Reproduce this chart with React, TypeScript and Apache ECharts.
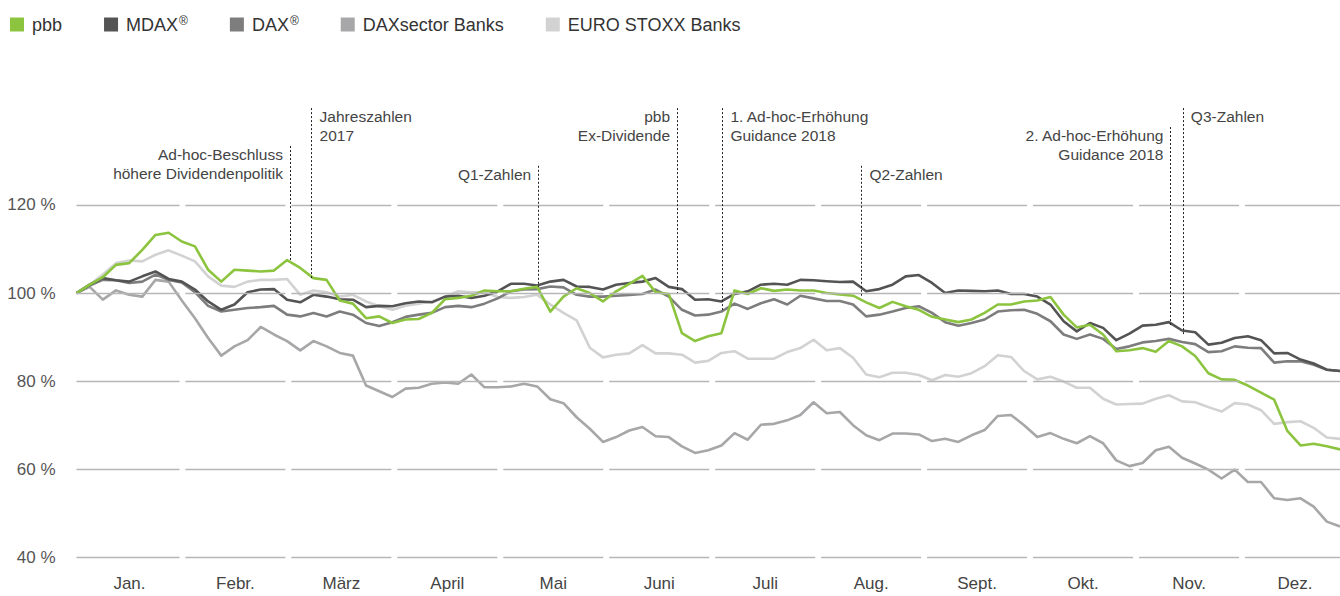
import React, { useEffect, useRef } from "react";
import * as echarts from "echarts";

const FONT = "'Liberation Sans', Arial, sans-serif";

const MONTHS = ["Jan.", "Febr.", "März", "April", "Mai", "Juni", "Juli", "Aug.", "Sept.", "Okt.", "Nov.", "Dez."];
const Y_TICKS = [40, 60, 80, 100, 120];
const X_MAX = 11.925; // visible part of the year, in months
const Y_MIN = 40;
const Y_MAX = 144;

// Values in % (start = 100), sampled about every second trading day
const PBB = [
  100, 101.9, 103.6, 106.4, 106.8, 109.8, 113.2, 113.7, 111.7, 110.6, 105.3, 102.6, 105.3, 105.1, 104.9, 105.1,
  107.5, 105.7, 103.4, 103.0, 98.3, 97.6, 94.3, 94.7, 93.2, 94.0, 94.1, 95.5, 98.6, 98.9, 99.4, 100.6,
  100.4, 100.4, 101.0, 101.4, 95.8, 99.2, 101.1, 100.0, 98.1, 100.4, 102.1, 103.9, 100.2, 99.8, 90.9, 89.1,
  90.2, 90.9, 100.6, 99.8, 101.1, 100.5, 100.8, 100.6, 100.6, 100.0, 99.7, 99.4, 97.9, 96.6, 98.0, 97.0,
  96.2, 94.6, 94.0, 93.4, 94.0, 95.5, 97.4, 97.4, 98.1, 98.3, 99.1, 95.1, 92.2, 92.8, 90.6, 86.8,
  87.0, 87.5, 86.7, 89.1, 87.9, 85.7, 81.8, 80.4, 80.3, 79.0, 77.4, 75.8, 68.7, 65.4, 65.8, 65.2, 64.5,
];
const MDAX = [
  100, 101.9, 103.4, 102.9, 102.6, 103.8, 104.9, 103.2, 102.6, 100.8, 98.1, 96.2, 97.4, 100.2, 100.8, 100.9,
  98.5, 97.9, 99.6, 99.2, 98.6, 98.5, 96.8, 97.1, 97.0, 97.7, 98.1, 97.9, 99.2, 99.4, 98.9, 99.4,
  100.4, 102.1, 102.1, 101.7, 102.6, 103.0, 101.5, 101.4, 100.8, 101.9, 102.3, 102.6, 103.4, 101.4, 100.9, 98.5,
  98.6, 98.1, 99.8, 100.4, 101.9, 102.1, 101.9, 103.0, 102.9, 102.7, 102.5, 102.6, 100.4, 100.9, 101.9, 103.8,
  104.1, 102.3, 100.0, 100.6, 100.5, 100.4, 100.6, 99.8, 99.8, 99.2, 97.4, 93.6, 91.3, 93.2, 92.1, 89.3,
  90.8, 92.6, 92.8, 93.4, 91.5, 91.1, 88.3, 88.7, 89.8, 90.2, 89.3, 86.3, 86.4, 84.9, 84.0, 82.6, 82.3,
];
const DAX = [
  100, 101.7, 103.0, 102.9, 102.3, 102.6, 104.2, 103.0, 102.4, 100.2, 97.1, 95.8, 96.2, 96.6, 96.8, 97.1,
  95.1, 94.7, 95.5, 94.7, 95.8, 95.1, 93.2, 92.5, 93.4, 94.6, 95.1, 95.5, 96.8, 97.1, 96.8, 97.6,
  98.8, 100.4, 100.8, 100.9, 101.5, 101.3, 99.6, 99.2, 99.2, 99.4, 99.6, 99.8, 100.8, 99.2, 96.2, 94.9,
  95.1, 95.8, 97.6, 96.4, 97.7, 98.6, 97.4, 99.4, 98.8, 98.2, 98.2, 97.4, 94.7, 95.1, 95.8, 96.6,
  97.0, 95.5, 93.4, 92.6, 93.2, 94.0, 95.8, 96.1, 96.2, 95.3, 93.6, 90.6, 89.6, 90.6, 89.6, 87.3,
  87.9, 88.8, 89.1, 89.6, 88.9, 88.4, 86.6, 86.8, 87.9, 87.6, 87.5, 84.2, 84.5, 84.5, 83.7, 82.6, 82.3,
];
const DAX_BANKS = [
  100, 101.4, 98.5, 100.6, 99.6, 99.2, 103.0, 102.6, 98.3, 94.3, 89.8, 85.8, 87.9, 89.3, 92.3, 90.6,
  89.1, 87.0, 89.1, 87.9, 86.4, 85.8, 79.0, 77.7, 76.4, 78.3, 78.5, 79.4, 79.7, 79.4, 81.5, 78.6,
  78.6, 78.8, 79.4, 78.8, 75.9, 75.0, 71.8, 69.2, 66.2, 67.3, 68.8, 69.6, 67.5, 67.3, 65.2, 63.7,
  64.3, 65.4, 68.2, 66.7, 70.1, 70.3, 71.1, 72.3, 75.2, 72.7, 73.0, 70.0, 67.7, 66.6, 68.1, 68.1,
  67.9, 66.4, 66.9, 66.2, 67.7, 68.9, 72.1, 72.3, 70.0, 67.3, 68.2, 66.9, 65.9, 67.5, 65.9, 62.0,
  60.7, 61.4, 64.3, 65.1, 62.6, 61.3, 59.9, 57.9, 59.9, 57.1, 57.1, 53.4, 53.0, 53.4, 51.5, 48.1, 47.0,
];
const EURO_BANKS = [
  100, 101.9, 104.2, 106.8, 107.4, 107.2, 108.7, 109.7, 108.5, 107.2, 103.8, 101.7, 101.4, 102.6, 103.0, 103.0,
  103.2, 99.6, 100.6, 100.2, 99.2, 99.6, 98.1, 97.0, 96.2, 97.1, 97.6, 98.1, 99.1, 100.4, 100.2, 100.2,
  99.1, 98.9, 99.1, 99.6, 97.4, 95.5, 93.8, 87.6, 85.4, 86.0, 86.3, 88.2, 86.3, 86.3, 86.0, 84.2,
  84.6, 86.4, 86.8, 85.1, 85.1, 85.1, 86.6, 87.5, 89.4, 87.0, 87.5, 85.3, 81.5, 80.9, 81.9, 81.9,
  81.4, 80.2, 81.4, 81.0, 81.8, 83.4, 85.9, 85.5, 82.3, 80.4, 81.0, 79.9, 78.5, 78.5, 76.0, 74.7,
  74.8, 74.9, 76.0, 76.8, 75.4, 75.2, 74.1, 73.1, 75.0, 74.7, 73.4, 70.3, 70.7, 70.9, 69.4, 67.2, 66.9,
];

const SERIES_NAMES = ["pbb", "MDAX®", "DAX®", "DAXsector Banks", "EURO STOXX Banks"];
const SERIES_COLORS = ["#8cc43f", "#545454", "#7d7d7d", "#a7a7a9", "#d2d2d2"];
const SERIES_VALUES = [PBB, MDAX, DAX, DAX_BANKS, EURO_BANKS];

// Events: position in months, top / bottom of the dotted line in %, label side
const EVENT_X = [2.014, 2.219, 4.357, 5.668, 6.096, 7.408, 10.325, 10.442];
const EVENT_TOP = [133.4, 142.0, 128.9, 142.0, 142.0, 128.9, 137.7, 142.0];
const EVENT_BOTTOM = [107.5, 103.4, 101.4, 100.0, 95.7, 99.1, 92.3, 90.5];
const EVENT_SIDE = ["left", "right", "left", "left", "right", "right", "left", "right"];
const EVENT_TEXT = [
  "Ad-hoc-Beschluss\nhöhere Dividendenpolitik",
  "Jahreszahlen\n2017",
  "Q1-Zahlen",
  "pbb\nEx-Dividende",
  "1. Ad-hoc-Erhöhung\nGuidance 2018",
  "Q2-Zahlen",
  "2. Ad-hoc-Erhöhung\nGuidance 2018",
  "Q3-Zahlen",
];

export default function App() {
  const ref = useRef<HTMLDivElement>(null);

  useEffect(() => {
    if (!ref.current) return;
    const chart = echarts.init(ref.current, undefined, { renderer: "svg" });
    const n = PBB.length - 1;

    const gridSegments: any[] = [];
    Y_TICKS.forEach((lv) => {
      for (let m = 0; m < 12; m++) {
        const s = m === 0 ? 0 : m + 0.028;
        const e = Math.min(m + 1 - 0.028, X_MAX);
        gridSegments.push([{ coord: [s, lv] }, { coord: [e, lv] }]);
      }
    });

    const eventLines = EVENT_X.map((x, i) => [{ coord: [x, EVENT_TOP[i]] }, { coord: [x, EVENT_BOTTOM[i]] }]);

    const lineSeries = SERIES_NAMES.map((name, i) => ({
      name,
      type: "line",
      data: SERIES_VALUES[i].map((v, k) => [(k * X_MAX) / n, v]),
      showSymbol: false,
      symbol: "none",
      color: SERIES_COLORS[i],
      lineStyle: { color: SERIES_COLORS[i], width: 2.6, join: "round" },
      itemStyle: { color: SERIES_COLORS[i] },
      emphasis: { disabled: true },
      z: 3,
    })).reverse();

    chart.setOption({
      animation: false,
      textStyle: { fontFamily: FONT },
      grid: { left: 76.5, right: 0, top: 99.3, bottom: 38.7 },
      legend: {
        data: SERIES_NAMES,
        left: 10,
        top: 15,
        padding: 0,
        icon: "rect",
        itemWidth: 14,
        itemHeight: 14,
        itemGap: 42,
        selectedMode: false,
        formatter: (nm: string) => nm.replace("®", "{sup|®}"),
        textStyle: {
          fontFamily: FONT,
          fontSize: 18,
          color: "#333",
          padding: [0, 0, 0, 3],
          rich: {
            sup: { fontFamily: FONT, fontSize: 12, color: "#333", verticalAlign: "top", padding: [0, 0, 7, 1] },
          },
        },
      },
      xAxis: {
        type: "value",
        min: 0,
        max: X_MAX,
        axisLine: { show: false },
        axisTick: { show: false },
        splitLine: { show: false },
        axisLabel: {
          customValues: MONTHS.map((_, i) => i + 0.5),
          formatter: (v: number) => MONTHS[Math.floor(v)] ?? "",
          fontSize: 17,
          color: "#444",
          fontFamily: FONT,
          margin: 18,
        },
      },
      yAxis: {
        type: "value",
        min: Y_MIN,
        max: Y_MAX,
        interval: 20,
        axisLine: { show: false },
        axisTick: { show: false },
        splitLine: { show: false },
        axisLabel: {
          formatter: (v: number) => (Y_TICKS.includes(v) ? `${v} %` : ""),
          fontSize: 17,
          color: "#555",
          fontFamily: FONT,
          margin: 21,
          showMaxLabel: false,
        },
      },
      series: [
        {
          name: "gridlines",
          type: "line",
          data: [],
          silent: true,
          z: 1,
          markLine: {
            silent: true,
            symbol: ["none", "none"],
            label: { show: false },
            lineStyle: { color: "#b6b6b6", width: 1.3, type: "solid" },
            emphasis: { disabled: true },
            data: gridSegments,
          },
        },
        ...lineSeries,
        {
          name: "events",
          type: "line",
          data: [],
          silent: true,
          z: 5,
          markLine: {
            silent: true,
            symbol: ["none", "none"],
            label: { show: false },
            lineStyle: { color: "#222", width: 1, type: [2, 2] },
            emphasis: { disabled: true },
            data: eventLines,
          },
        },
      ],
    });

    const texts = EVENT_X.map((x, i) => {
      const p = chart.convertToPixel({ xAxisIndex: 0, yAxisIndex: 0 }, [x, EVENT_TOP[i]]) as number[];
      const left = EVENT_SIDE[i] === "left";
      return {
        type: "text",
        x: left ? p[0] - 7 : p[0] + 8,
        y: p[1] - 1,
        silent: true,
        style: {
          text: EVENT_TEXT[i],
          fill: "#444",
          font: `15.5px ${FONT}`,
          fontSize: 15.5,
          fontFamily: FONT,
          lineHeight: 18.7,
          align: left ? "right" : "left",
          verticalAlign: "top",
        },
      };
    });
    chart.setOption({ graphic: texts });

    return () => chart.dispose();
  }, []);

  return (
    <div
      ref={ref}
      style={{ position: "absolute", left: 0, top: 0, width: 1340, height: 596, background: "#fff" }}
    />
  );
}
